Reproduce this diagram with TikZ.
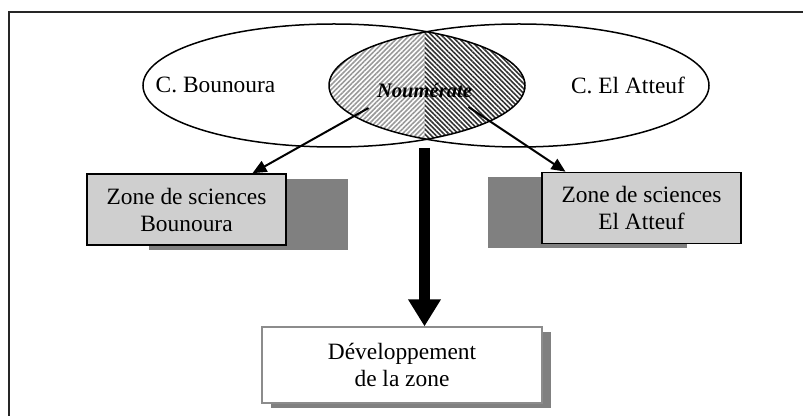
\documentclass[tikz,border=0pt]{standalone}
\usepackage{fontspec}
\setmainfont{Liberation Serif}
\usetikzlibrary{arrows.meta,positioning,patterns.meta,shadows}

\begin{document}
\begin{tikzpicture}[
    x=0.5pt, y=-0.5pt,
    txt/.style={font=\fontsize{11.7}{13.5}\selectfont, align=center},
    zbox/.style={rectangle, draw=black, line width=0.8pt, fill=black!19,
                minimum width=99.5pt, minimum height=35.5pt, inner sep=2pt, txt},
    dbox/.style={rectangle, draw=black!45, line width=0.6pt, fill=white,
                minimum width=140pt, minimum height=38pt, inner sep=2pt, txt,
                drop shadow={shadow xshift=4.5pt, shadow yshift=-2.5pt,
                             fill=black!50, opacity=1}},
    arr/.style={-{Triangle[length=7pt,width=6pt]}, line width=1pt},
    bigarr/.style={-{Triangle[length=13.5pt,width=15.5pt]}, line width=5.5pt},
    ell/.style={draw=black, line width=0.75pt}
]
\useasboundingbox (0,0) rectangle (803,416);
\clip (0,0) rectangle (803,416);

% frame
\draw[black!85, line width=0.8pt] (9,430) -- (9,12) -- (820,12);

% common part of the two circles
\begin{scope}
  \clip (334,85.5) ellipse [x radius=191, y radius=61.5];
  \clip (519,85.5) ellipse [x radius=190, y radius=61.5];
  \fill[pattern={Lines[angle=45,distance=1.7pt,line width=0.8pt]},
        pattern color=black!40] (300,0) rectangle (424.5,200);
  \fill[pattern={Lines[angle=-45,distance=1.7pt,line width=0.8pt]},
        pattern color=black!80] (424.5,0) rectangle (560,200);
\end{scope}
\draw[ell] (334,85.5) ellipse [x radius=191, y radius=61.5];
\draw[ell] (519,85.5) ellipse [x radius=190, y radius=61.5];

\node[txt] (bou) at (215.5,85) {C. Bounoura};
\node[txt] (att) at (628,85) {C. El Atteuf};
\node[font=\fontsize{10.3}{12}\selectfont\bfseries\itshape] (noum) at (424.5,90) {Noumérate};

% zones
\node[zbox, drop shadow={shadow xshift=31pt, shadow yshift=-2.5pt,
                         fill=black!50, opacity=1}]
     (zbou) at (186.5,209.5) {Zone de sciences\\Bounoura};
\node[zbox, drop shadow={shadow xshift=-27pt, shadow yshift=-2.25pt,
                         fill=black!50, opacity=1}]
     (zatt) at (641.5,208) {Zone de sciences\\El Atteuf};
\node[dbox] (dev) at (402,365) {Développement\\de la zone};

\coordinate (split) at (424.5,148);

\draw[arr] ([xshift=-28pt,yshift=-9pt]noum.center) -- ([xshift=33pt]zbou.north);
\draw[arr] ([xshift=22pt,yshift=-8.5pt]noum.center) -- ([xshift=-38pt]zatt.north);
\draw[bigarr] (split) -- ([xshift=11.25pt]dev.north);
\end{tikzpicture}
\end{document}
